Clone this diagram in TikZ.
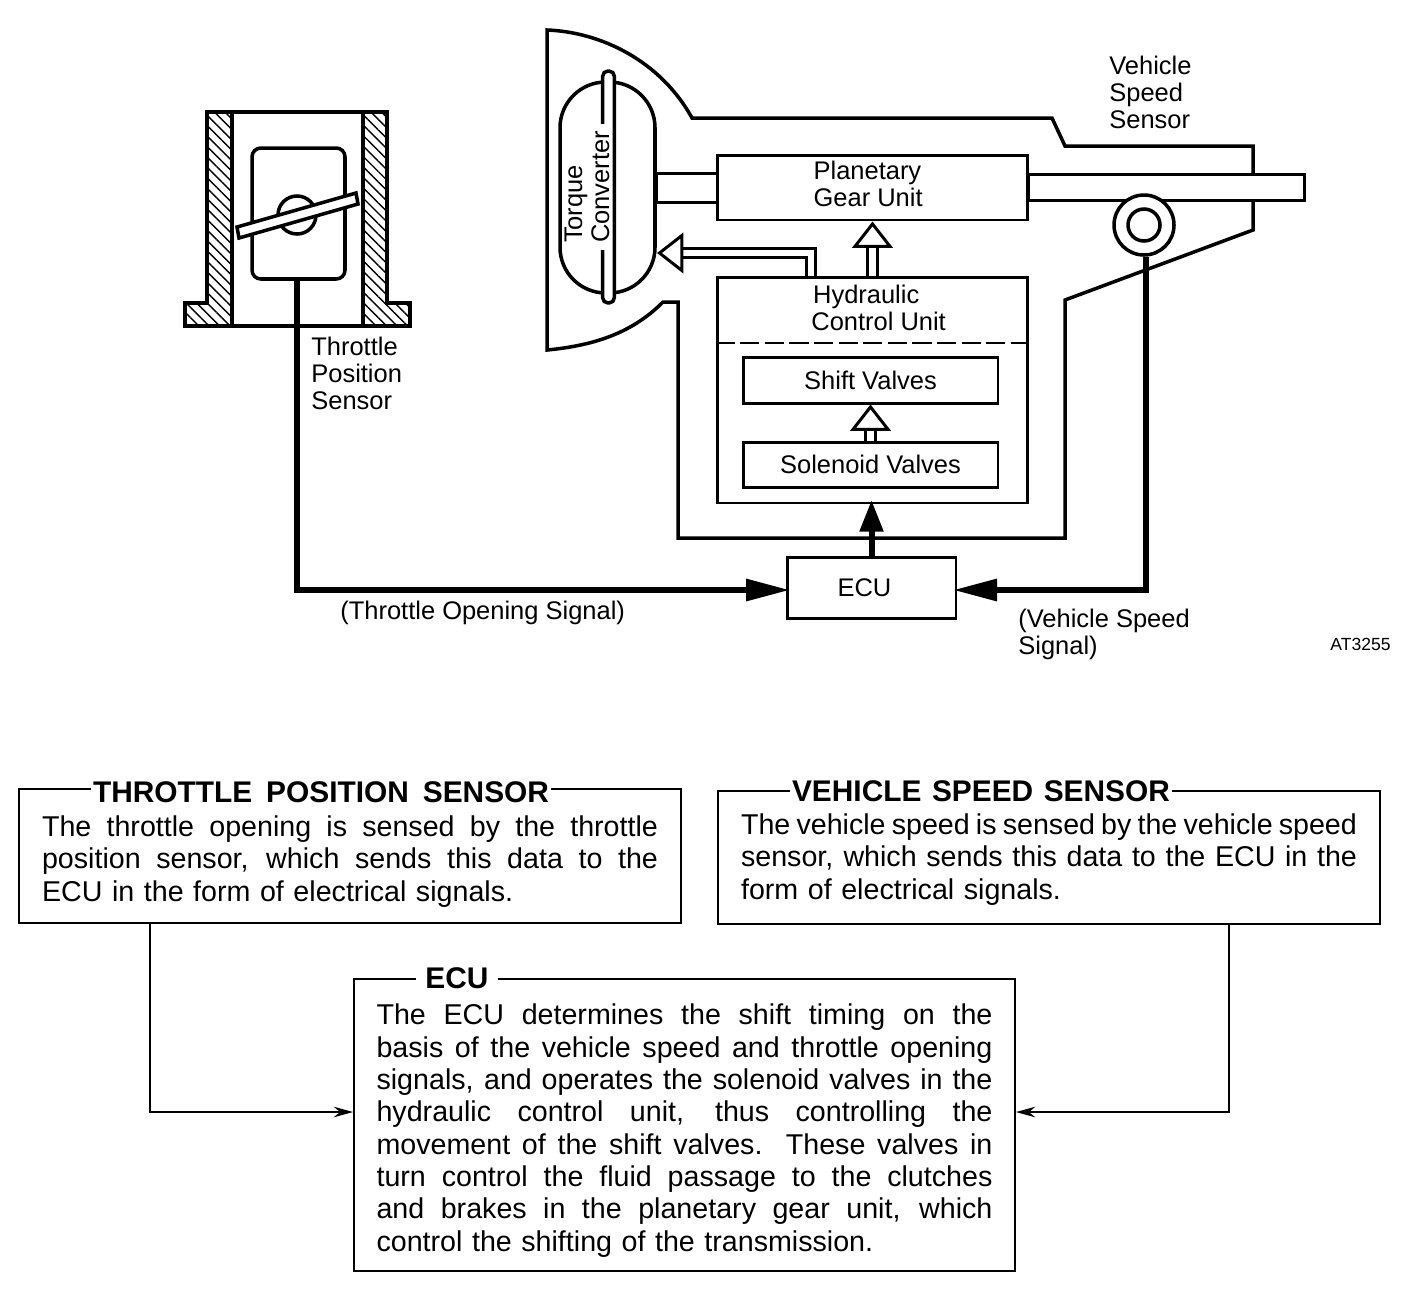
\documentclass[tikz,border=0pt]{standalone}
\usepackage{fontspec}
\setmainfont{Liberation Sans}
\usetikzlibrary{arrows.meta,patterns.meta,positioning,calc}
\newcommand{\jline}[1]{\leavevmode\hbox to \hsize{\spaceskip=.27em plus 1em minus .12em\relax #1}}
\begin{document}
\begin{tikzpicture}[
    x=0.02cm, y=-0.02cm,
    heavy/.style={line width=2pt},
    partbox/.style={rectangle, draw=black, line width=1.7pt, fill=white, inner sep=0pt, align=left,
                    font=\fontsize{14.5}{15.3}\selectfont},
    caption/.style={inner sep=0pt, align=left, anchor=north west, font=\fontsize{14.5}{15.3}\selectfont},
    signal/.style={line width=3.4pt, shorten >=-2.5pt, -{Triangle[length=25pt,width=12pt]}},
    hollowarrow/.style={line width=1.7pt, double, double distance=3.9pt,
                        -{Triangle[open,fill=white,length=15pt,width=23pt]}},
    hatched/.style={draw=black, heavy, pattern={Lines[angle=135,distance=4.2pt,line width=0.8pt]}},
    infobox/.style={rectangle, draw=black, line width=1.1pt, inner sep=0pt,
                    font=\fontsize{16.3}{18.4}\selectfont},
    infotitle/.style={fill=white, inner xsep=1pt, inner ysep=0pt,
                      font=\fontsize{17}{20}\selectfont\bfseries},
    thinlink/.style={line width=1.1pt, -{Stealth[length=11pt,width=6pt]}}
]
    \useasboundingbox (0,0) rectangle (1408,1296);
    % throttle body
    \fill[white] (207,112) rectangle (387,326);
    \draw[hatched] (207,112) -- (232,112) -- (232,326) -- (185,326) -- (185,303) -- (207,303) -- cycle;
    \draw[hatched] (387,112) -- (363,112) -- (363,326) -- (410,326) -- (410,303) -- (387,303) -- cycle;
    \draw[heavy] (232,112) -- (363,112);
    \draw[heavy] (232,326) -- (363,326);
    \node[rectangle, draw=black, heavy, rounded corners=5pt, minimum width=1.86cm, minimum height=2.62cm] (bore) at (298.5,213.5) {};
    \draw[heavy] (297,215) circle (19);
    \draw[heavy, fill=white] (237,227) -- (356,193) -- (358,204) -- (239,238) -- cycle;
    \node[caption] (tpslabel) at (311,336.5) {Throttle\\Position\\Sensor};
    % transmission housing
    \draw[heavy, fill=white] (547,30) .. controls (600,32) and (660,60) .. (692,118) -- (1052,118) -- (1065,146)
        -- (1253,146) -- (1253,230) -- (1065,300) -- (1065,538) -- (678,538) -- (678,302) -- (663,302)
        .. controls (635,330) and (600,345) .. (547,350) -- cycle;
    \node[rectangle, draw=black, heavy, rounded corners=26pt, minimum width=1.9cm, minimum height=4.22cm] (tc) at (607.5,187.5) {};
    \node[rectangle, draw=black, heavy, fill=white, rounded corners=3pt, minimum width=0.22cm, minimum height=4.64cm] (disc) at (608.5,187) {};
    \node[fill=white, rotate=90, inner xsep=4pt, inner ysep=0pt, align=left, font=\fontsize{14.5}{15.3}\selectfont] (tclabel) at (587,187) {Torque\\Converter};
    \draw[line width=1.7pt, fill=white] (656,173) rectangle (717,202);
    \draw[line width=1.7pt, fill=white] (1028,174) rectangle (1304,200);
    \node[partbox, minimum width=6.22cm, minimum height=1.3cm] (gear) at (872.5,187.5) {Planetary\\Gear Unit\hspace*{5pt}\rule[-4pt]{0pt}{1pt}};
    \node[partbox, minimum width=6.22cm, minimum height=4.52cm] (hcu) at (872.5,390) {};
    \node[caption] (hculabel) at (811,285) {\hspace*{1pt}Hydraulic\\Control Unit};
    \draw[line width=1.5pt, dashed, dash pattern=on 11pt off 3pt] (hcu.west |- 0,343) -- (hcu.east |- 0,343);
    \node[partbox, minimum width=5.1cm, minimum height=0.92cm] (shift) at (870.5,380) {Shift Valves};
    \node[partbox, minimum width=5.1cm, minimum height=0.9cm] (solenoid) at (870.5,464.5) {Solenoid Valves};
    \node[partbox, minimum width=3.38cm, minimum height=1.22cm] (ecu) at (871.5,587.5) {ECU\hspace*{8pt}};
    % speed sensor
    \node[circle, draw=black, heavy, fill=white, minimum size=1.2cm, inner sep=0pt] (rotor) at (1144,225) {};
    \node[circle, draw=black, heavy, minimum size=0.64cm, inner sep=0pt] (rotorhub) at (1144,225) {};
    \node[caption] (vsslabel) at (1109,55.5) {Vehicle\\Speed\\Sensor};
    % flows
    \coordinate (tcport) at (657,253);
    \coordinate (hcuport) at (811,253);
    \draw[hollowarrow] (hcu.north -| hcuport) |- (tcport);
    \draw[hollowarrow] (hcu.north) -- (gear.south);
    \draw[hollowarrow] (solenoid.north) -- (shift.south);
    \draw[signal, -{Triangle[length=18pt,width=13pt]}] (ecu.north) -- (ecu.north |- hcu.south);
    \coordinate (tpscorner) at (297,590);
    \coordinate (vsscorner) at (1146,590);
    \draw[signal] (bore.south -| tpscorner) -- (tpscorner) -- (ecu.west |- tpscorner);
    \draw[signal] (rotor.south -| vsscorner) -- (vsscorner) -- (ecu.east |- vsscorner);
    \node[caption] (tosignal) at (340,600.5) {(Throttle Opening Signal)};
    \node[caption] (vssignal) at (1018,608.5) {(Vehicle Speed\\Signal)};
    \node[inner sep=0pt, anchor=east, font=\fontsize{10}{11}\selectfont] (figcode) at (1391,644) {AT3255};
    % explanation boxes
    \node[infobox, minimum width=13.24cm, minimum height=2.68cm, text width=12.32cm] (tpsbox) at (350,856) {%
        \jline{\rule{0pt}{18pt}The throttle opening is sensed by the throttle}\\
        \jline{position sensor, which sends this data to the}\\
        ECU in the form of electrical signals.};
    \node[infotitle, text width=9.12cm] (tpstitle) at (321,792) {\jline{THROTTLE POSITION SENSOR}};
    \node[infobox, minimum width=13.24cm, minimum height=2.66cm, text width=12.32cm] (vssbox) at (1049,857.5) {%
        \jline{\rule{0pt}{14pt}The vehicle speed is sensed by the vehicle speed}\\
        \jline{sensor, which sends this data to the ECU in the}\\
        form of electrical signals.};
    \node[infotitle, text width=7.56cm] (vsstitle) at (981,791) {\jline{VEHICLE SPEED SENSOR}};
    \node[infobox, minimum width=13.22cm, minimum height=5.84cm, text width=12.32cm] (ecubox) at (684.5,1125) {%
        \jline{\rule{0pt}{18pt}The ECU determines the shift timing on the}\\
        \jline{basis of the vehicle speed and throttle opening}\\
        \jline{signals, and operates the solenoid valves in the}\\
        \jline{hydraulic control unit, thus controlling the}\\
        \jline{movement of the shift valves.\ \ These valves in}\\
        \jline{turn control the fluid passage to the clutches}\\
        \jline{and brakes in the planetary gear unit, which}\\
        control the shifting of the transmission.};
    \node[infotitle, inner xsep=5.5pt] (ecutitle) at (457,978) {ECU};
    \coordinate (tpsdrop) at (150,1112);
    \coordinate (vssdrop) at (1229,1112);
    \draw[thinlink] (tpsbox.south -| tpsdrop) |- (ecubox.west |- tpsdrop);
    \draw[thinlink] (vssbox.south -| vssdrop) |- (ecubox.east |- vssdrop);
\end{tikzpicture}
\end{document}
